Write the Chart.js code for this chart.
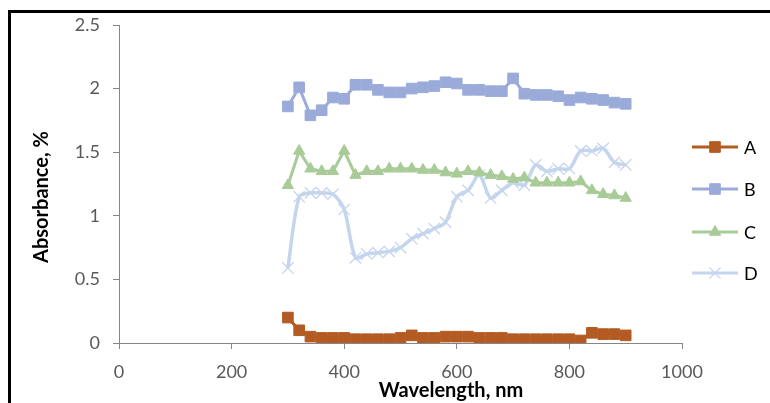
<!DOCTYPE html>
<html>
<head>
<meta charset="utf-8">
<script src="https://cdn.jsdelivr.net/npm/chart.js@4.4.1/dist/chart.umd.min.js"></script>
<style>
  html, body { margin: 0; padding: 0; background: #fff; overflow: hidden; }
  #wrap { position: relative; width: 770px; height: 403px; }
  #frame { position: absolute; left: 8px; top: 10px; width: 820px; height: 440px; border: 3px solid #000; box-sizing: border-box; pointer-events: none; }
  canvas { position: absolute; left: 0; top: 0; }
</style>
</head>
<body>
<div id="wrap">
  <canvas id="myChart" width="770" height="403"></canvas>
  <div id="frame"></div>
</div>
<script>
// wavelengths, nm
const wavelengths = [300, 320, 340, 360, 380, 400, 420, 440, 460, 480, 500, 520, 540, 560, 580, 600,
                     620, 640, 660, 680, 700, 720, 740, 760, 780, 800, 820, 840, 860, 880, 900];

const seriesA = [0.20, 0.10, 0.05, 0.04, 0.04, 0.04, 0.03, 0.03, 0.03, 0.03, 0.04, 0.06, 0.04, 0.04, 0.05, 0.05,
                 0.05, 0.04, 0.04, 0.04, 0.03, 0.03, 0.03, 0.03, 0.03, 0.03, 0.02, 0.08, 0.07, 0.07, 0.06];
const seriesB = [1.86, 2.01, 1.79, 1.83, 1.93, 1.92, 2.03, 2.03, 1.99, 1.97, 1.97, 2.00, 2.01, 2.02, 2.05, 2.04,
                 1.99, 1.99, 1.98, 1.98, 2.08, 1.96, 1.95, 1.95, 1.94, 1.91, 1.93, 1.92, 1.91, 1.89, 1.88];
const seriesC = [1.24, 1.51, 1.37, 1.35, 1.35, 1.51, 1.32, 1.35, 1.35, 1.37, 1.37, 1.37, 1.36, 1.36, 1.34, 1.33,
                 1.35, 1.34, 1.32, 1.31, 1.29, 1.30, 1.26, 1.26, 1.26, 1.26, 1.27, 1.20, 1.17, 1.16, 1.14];
const seriesD = [0.59, 1.15, 1.18, 1.18, 1.17, 1.05, 0.67, 0.70, 0.71, 0.72, 0.75, 0.82, 0.86, 0.90, 0.95, 1.15,
                 1.20, 1.32, 1.14, 1.20, 1.26, 1.24, 1.40, 1.35, 1.37, 1.37, 1.51, 1.51, 1.53, 1.42, 1.40];

const seriesNames = ['A', 'B', 'C', 'D'];
const yTicks = [0, 0.5, 1, 1.5, 2, 2.5];
const xTicks = [0, 200, 400, 600, 800, 1000];

function pts(values) {
    return wavelengths.map((w, i) => ({ x: w, y: values[i] }));
}

const FONT = 'Lato, "Open Sans", sans-serif';

// legend with line + marker, drawn at the right
const legendPlugin = {
    id: 'sideLegend',
    afterDraw(chart) {
        const ctx = chart.ctx;
        const ys = [147, 189, 232, 273];
        chart.data.datasets.forEach((ds, i) => {
            const y = ys[i];
            ctx.save();
            ctx.strokeStyle = ds.borderColor;
            ctx.lineWidth = 3;
            ctx.beginPath();
            ctx.moveTo(692, y);
            ctx.lineTo(738, y);
            ctx.stroke();
            ctx.fillStyle = ds.pointBackgroundColor;
            ctx.strokeStyle = ds.pointBorderColor;
            ctx.lineWidth = ds.pointBorderWidth;
            Chart.helpers.drawPoint(ctx, { pointStyle: ds.pointStyle, radius: ds.pointRadius, rotation: 0, borderWidth: ds.pointBorderWidth }, 715, y);
            ctx.fillStyle = '#000';
            ctx.font = '18px ' + FONT;
            ctx.textAlign = 'left';
            ctx.textBaseline = 'middle';
            ctx.fillText(ds.label, 744, y + 1);
            ctx.restore();
        });
    }
};

// axis titles placed like the original
const titlePlugin = {
    id: 'axisTitles',
    afterDraw(chart) {
        const ctx = chart.ctx;
        ctx.save();
        ctx.fillStyle = '#000';
        ctx.font = 'bold 20px ' + FONT;
        ctx.textAlign = 'center';
        ctx.textBaseline = 'middle';
        ctx.fillText('Wavelength, nm', 451, 391);
        ctx.translate(42, 197);
        ctx.rotate(-Math.PI / 2);
        ctx.fillText('Absorbance, %', 0, 0);
        ctx.restore();
    }
};

const myChart = document.getElementById('myChart');

let lineChart = new Chart(myChart, {
    type: 'line',
    data: {
        datasets: [
            {
                label: seriesNames[0],
                data: pts(seriesA),
                borderColor: '#B35B22',
                backgroundColor: '#B35B22',
                pointBackgroundColor: '#B35B22',
                pointBorderColor: '#B35B22',
                pointBorderWidth: 1,
                pointStyle: 'rect',
                pointRadius: 7.5,
                borderWidth: 3,
                tension: 0
            },
            {
                label: seriesNames[1],
                data: pts(seriesB),
                borderColor: '#9AABDA',
                backgroundColor: '#9AABDA',
                pointBackgroundColor: '#9AABDA',
                pointBorderColor: '#9AABDA',
                pointBorderWidth: 1,
                pointStyle: 'rect',
                pointRadius: 7.5,
                borderWidth: 3,
                tension: 0
            },
            {
                label: seriesNames[2],
                data: pts(seriesC),
                borderColor: '#A8CB98',
                backgroundColor: '#A8CB98',
                pointBackgroundColor: '#A8CB98',
                pointBorderColor: '#A8CB98',
                pointBorderWidth: 1,
                pointStyle: 'triangle',
                pointRadius: 6.5,
                borderWidth: 3,
                tension: 0
            },
            {
                label: seriesNames[3],
                data: pts(seriesD),
                borderColor: '#C5D5EE',
                backgroundColor: '#C5D5EE',
                pointBackgroundColor: '#C5D5EE',
                pointBorderColor: '#C5D5EE',
                pointBorderWidth: 1.3,
                pointStyle: 'crossRot',
                pointRadius: 8,
                borderWidth: 3.5,
                tension: 0.3
            }
        ]
    },
    options: {
        responsive: false,
        animation: false,
        layout: { padding: { left: 0, right: 88, top: 25, bottom: 0 } },
        plugins: {
            legend: { display: false },
            tooltip: { enabled: false }
        },
        scales: {
            x: {
                type: 'linear',
                min: 0,
                max: 1000,
                afterFit(scale) { scale.height = 60; },
                afterBuildTicks(scale) { scale.ticks = xTicks.map(v => ({ value: v })); },
                border: { display: true, color: '#868686', width: 1 },
                grid: { drawOnChartArea: false, drawTicks: true, tickLength: 6, color: '#868686' },
                ticks: {
                    color: '#595959', font: { size: 18, family: FONT }, padding: 12, maxRotation: 0,
                    callback: v => String(v)
                }
            },
            y: {
                min: 0,
                max: 2.5,
                afterFit(scale) { scale.width = 119; },
                afterBuildTicks(scale) { scale.ticks = yTicks.map(v => ({ value: v })); },
                border: { display: true, color: '#868686', width: 1 },
                grid: { drawOnChartArea: false, drawTicks: true, tickLength: 6, color: '#868686' },
                ticks: {
                    color: '#595959', font: { size: 18, family: FONT }, padding: 13,
                    callback: v => String(v)
                }
            }
        }
    },
    plugins: [legendPlugin, titlePlugin]
});
</script>
</body>
</html>
